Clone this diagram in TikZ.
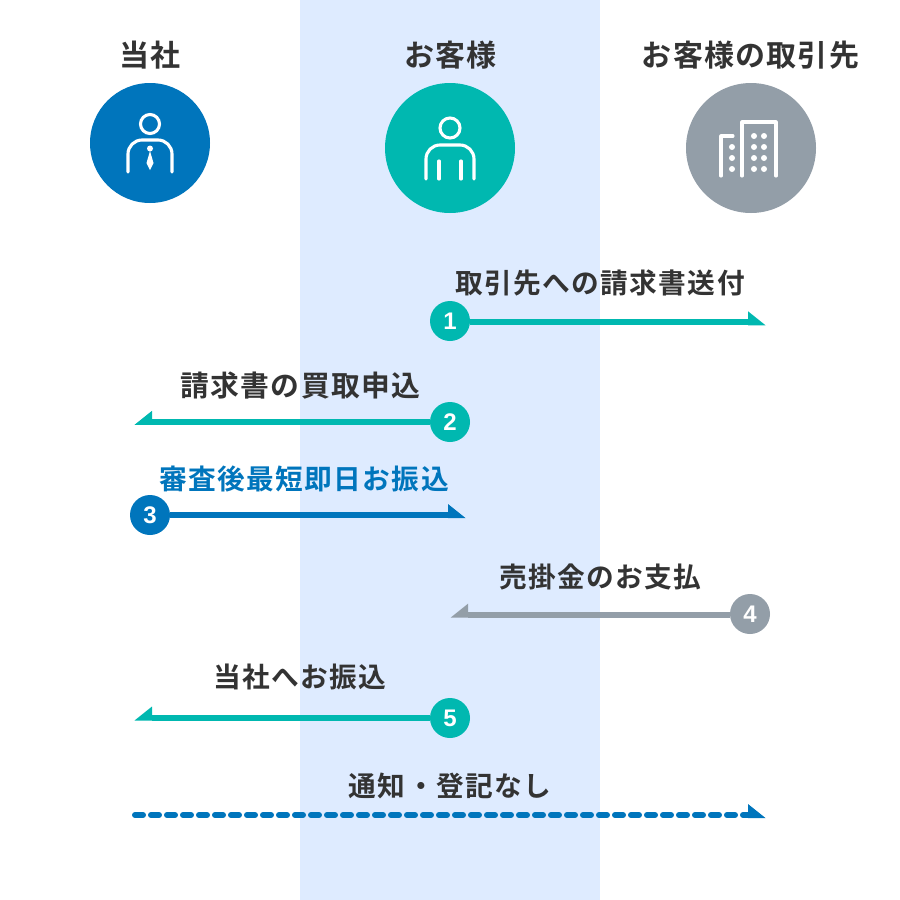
\documentclass[tikz,border=0pt]{standalone}
\usepackage{fontspec}
\newfontfamily\jpfont{Noto Sans CJK JP}[BoldFont={Noto Sans CJK JP Bold},LetterSpace=4]
\newfontfamily\jprow{Noto Sans CJK JP}[BoldFont={Noto Sans CJK JP Bold},LetterSpace=5]
\setmainfont{Noto Sans CJK JP}[BoldFont={Noto Sans CJK JP Bold}]
\newfontfamily\numfont{Liberation Sans}[BoldFont={Liberation Sans Bold}]
\definecolor{cblue}{HTML}{0075BC}
\definecolor{cteal}{HTML}{00B8B0}
\definecolor{cgray}{HTML}{939EA8}
\definecolor{cband}{HTML}{DEEBFF}
\definecolor{ctext}{HTML}{333333}
\newcommand{\headright}[2]{\fill[#1] ([yshift=11pt]#2.center) -- ([xshift=17.5pt,yshift=-3pt]#2.center) -- ([yshift=-3pt]#2.center) -- cycle;}
\newcommand{\headleft}[2]{\fill[#1] ([yshift=11pt]#2.center) -- ([xshift=-17.5pt,yshift=-3pt]#2.center) -- ([yshift=-3pt]#2.center) -- cycle;}
\tikzset{
  lbl/.style={font=\jpfont\fontsize{30}{32}\selectfont\bfseries, text=ctext, inner sep=0pt, anchor=center},
  lblw/.style={lbl, font=\jprow\fontsize{27.7}{30}\selectfont\bfseries},
  lblx/.style={lbl, font=\jprow\fontsize{28.8}{30}\selectfont\bfseries},
  badge/.style={circle, minimum size=40pt, inner sep=0pt, text=white, font=\numfont\fontsize{24}{24}\selectfont\bfseries},
  big/.style={circle, inner sep=0pt},
  conn/.style={line width=6pt},
  icon/.style={draw=white, line width=3.1pt, line cap=round, line join=round},
  dot/.style={circle, fill=white, inner sep=0pt, minimum size=6pt},
}
\begin{document}
\begin{tikzpicture}[x=1pt,y=-1pt]
\useasboundingbox (0,0) rectangle (900,900);
\fill[white] (0,0) rectangle (900,900);
\fill[cband] (300,0) rectangle (600,900);

% headers
\node[lbl] (h1) at (150,55) {当社};
\node[lbl] (h2) at (450.5,55) {お客様};
\node[lbl] (h3) at (750.5,55) {お客様の取引先};

% big circles
\node[big, fill=cblue, minimum size=120pt] (c1) at (150,143) {};
\node[big, fill=cteal, minimum size=130pt] (c2) at (450,148) {};
\node[big, fill=cgray, minimum size=130pt] (c3) at (751,148) {};

% icon 1
\draw[icon] (150,124) circle (9.5);
\draw[icon, rounded corners=14pt] (128,172) -- (128,140) -- (172,140) -- (172,172);
\fill[white] (150,148.5) circle (3);
\fill[white] (150,151) -- (153.5,163) -- (150,170) -- (146.5,163) -- cycle;

% icon 2
\draw[icon] (450,128) circle (10);
\draw[icon, rounded corners=14pt] (426,179) -- (426,145) -- (474,145) -- (474,179);
\draw[icon] (439,161) -- (439,179);
\draw[icon] (461,161) -- (461,179);

% icon 3
\draw[icon] (742,176) -- (742,122) -- (776,122) -- (776,176);
\draw[icon] (721,176) -- (721,136) -- (733,136);
\foreach \x/\y in {732/147,732/158,732/169,754/136,764/136,754/147,764/147,754/158,764/158,754/169,764/169}
  \node[dot] at (\x,\y) {};

% row labels
\node[lblw] (l1) at (600,283) {取引先への請求書送付};
\node[lblx] (l2) at (300.5,386) {請求書の買取申込};
\node[lblw, text=cblue] (l3) at (304,479) {審査後最短即日お振込};
\node[lblw] (l4) at (600.5,577) {売掛金のお支払};
\node[lblw] (l5) at (300,677) {当社へお振込};
\node[lblw] (l6) at (450,786) {通知・登記なし};

% end points
\coordinate (e1) at (748,322.3);
\coordinate (e2) at (152,421.8);
\coordinate (e3) at (448,515);
\coordinate (e4) at (468,614.7);
\coordinate (e5) at (152,717.5);
\coordinate (s6) at (135,815);
\coordinate (e6) at (748,815);

% badges
\node[badge, fill=cteal] (n1) at (450,321) {1};
\node[badge, fill=cteal] (n2) at (450,422) {2};
\node[badge, fill=cblue] (n3) at (150,515) {3};
\node[badge, fill=cgray] (n4) at (750,614) {4};
\node[badge, fill=cteal] (n5) at (450,718) {5};

% connectors
\draw[conn, cteal] (n1.east |- e1) -- (e1);
\draw[conn, cteal] (n2.west |- e2) -- (e2);
\draw[conn, cblue] (n3.east |- e3) -- (e3);
\draw[conn, cgray] (n4.west |- e4) -- (e4);
\draw[conn, cteal] (n5.west |- e5) -- (e5);
\draw[conn, cblue, line cap=round, dash pattern=on 8pt off 8pt] (s6) -- (e6);

\headright{cteal}{e1}
\headleft{cteal}{e2}
\headright{cblue}{e3}
\headleft{cgray}{e4}
\headleft{cteal}{e5}
\headright{cblue}{e6}
\end{tikzpicture}
\end{document}
